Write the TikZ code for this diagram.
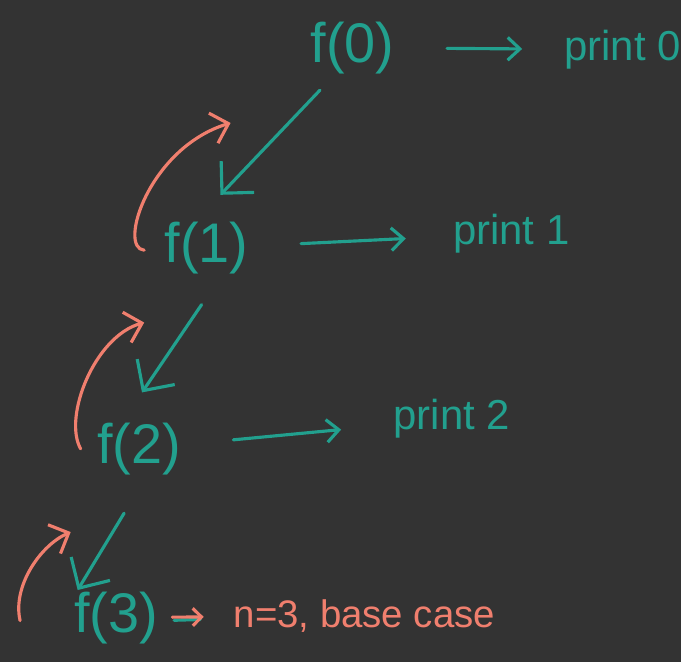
\documentclass[tikz,border=0pt]{standalone}
\usepackage{fontspec}
\setmainfont{Liberation Sans}
\usepackage{tikz}
\usetikzlibrary{arrows.meta, calc}
\definecolor{board}{HTML}{333333}
\definecolor{ink}{HTML}{22A08E}
\definecolor{back}{HTML}{F07F6E}

\begin{document}
\begin{tikzpicture}[
    x=0.02cm, y=-0.02cm,
    fcall/.style={ink, font=\fontsize{32}{36}\selectfont, inner sep=3pt},
    printout/.style={ink, font=\fontsize{24}{28}\selectfont, inner sep=3pt},
    basecase/.style={back, font=\fontsize{22}{26}\selectfont, inner sep=3pt},
    call/.style={ink, line width=1.8pt, line cap=round, -{Straight Barb[length=13pt, width=26pt]}},
    say/.style={ink, line width=1.8pt, line cap=round, -{Straight Barb[length=7pt, width=13pt]}},
    ret/.style={back, line width=1.8pt, line cap=round, -{Straight Barb[length=9pt, width=18pt]}},
]
    % Board
    \fill[board] (0,0) rectangle (686,667);

    % Calls
    \node[fcall] (f0) at (355,48) {f(0)};
    \node[fcall] (f1) at (208,250) {f(1)};
    \node[fcall] (f2) at (140,452) {f(2)};
    \node[fcall] (f3) at (117,622) {f(3)};

    % Outputs
    \node[printout] (p0) at (627,50) {print 0};
    \node[printout] (p1) at (515,235) {print 1};
    \node[printout] (p2) at (455,422) {print 2};
    \node[basecase] (base) at (367,620) {n=3, base case};

    % Print arrows
    \draw[say, shorten <=27pt, shorten >=21pt] (f0) -- (p0);
    \draw[say, shorten <=27pt, shorten >=24pt] (f1) -- (p1);
    \draw[say, shorten <=27pt, shorten >=27pt] (f2) -- (p2);
    \draw[ink, line width=1.8pt, line cap=round, shorten <=6pt, shorten >=16pt] ($(f3.east)+(0,3)$) -- ($(base.west)+(0,3)$);
    \draw[back, line width=1.8pt, line cap=round, -{Straight Barb[length=5pt, width=10pt]}, shorten <=5pt, shorten >=14pt] (f3) -- (base);

    % Recursive calls
    \draw[call] ($(f0.south west)+(15,11)$) -- ($(f1.north)+(14,-22)$);
    \draw[call] ($(f1.south)+(-5,25)$) -- ($(f2.north)+(3,-25)$);
    \draw[call] ($(f2.south)+(-15,33)$) -- ($(f3.north west)+(9,4)$);

    % Returns
    \draw[ret] ($(f1.west)+(-15,2)$) .. controls +(-27,-2) and +(-82,25) .. ($(f0.south west)+(-75,44)$);
    \draw[ret] ($(f2.west)+(-11,0)$) .. controls +(-18,-32) and +(-50,14) .. ($(f1.south west)+(-15,43)$);
    \draw[ret] ($(f3.west)+(-49,3)$) .. controls +(-8,-35) and +(-30,13) .. ($(f2.south west)+(-21,52)$);
\end{tikzpicture}
\end{document}
